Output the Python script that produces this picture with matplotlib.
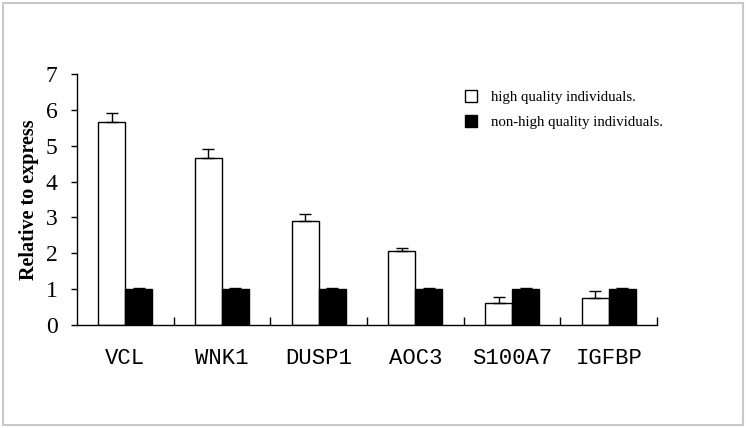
import numpy as np
import matplotlib
matplotlib.use("Agg")
import matplotlib.pyplot as plt
from matplotlib.patches import Rectangle

# =========================
# DATA
# =========================
genes = ["VCL", "WNK1", "DUSP1", "AOC3", "S100A7", "IGFBP"]
high_vals = [5.65, 4.65, 2.9, 2.05, 0.62, 0.75]
high_err = [0.25, 0.25, 0.2, 0.1, 0.15, 0.2]
non_vals = [1.0, 1.0, 1.0, 1.0, 1.0, 1.0]
non_err = [0.04, 0.04, 0.04, 0.04, 0.04, 0.04]

# =========================
# PLOT
# =========================
fig = plt.figure(figsize=(7.46, 4.28), dpi=100)
ax = fig.add_axes([0.103, 0.241, 0.778, 0.586])

x = np.arange(len(genes))
w = 0.28

ax.bar(x - w / 2, high_vals, w, color="white", edgecolor="black", linewidth=1,
       label="high quality individuals.")
ax.bar(x + w / 2, non_vals, w, color="black", edgecolor="black", linewidth=1,
       label="non-high quality individuals.")
ax.errorbar(x - w / 2, high_vals, yerr=[np.zeros(len(x)), high_err], fmt="none",
            ecolor="black", elinewidth=1, capsize=4, capthick=1)
ax.errorbar(x + w / 2, non_vals, yerr=[np.zeros(len(x)), non_err], fmt="none",
            ecolor="black", elinewidth=1, capsize=4, capthick=1)

ax.set_xlim(-0.5, len(genes) - 0.5)
ax.set_ylim(0, 7)
ax.set_yticks(range(8))
ax.set_yticklabels([str(i) for i in range(8)], fontfamily="Liberation Serif", fontsize=17)
ax.tick_params(axis="y", direction="out", length=4, width=1, pad=10)

ax.set_xticks(x)
ax.set_xticklabels(genes, fontfamily="Liberation Mono", fontsize=16)
ax.tick_params(axis="x", which="major", length=0, pad=17)
ax.set_xticks(np.arange(len(genes)) + 0.5, minor=True)
ax.tick_params(axis="x", which="minor", direction="in", length=6, width=1)

for s in ["top", "right"]:
    ax.spines[s].set_visible(False)
for s in ["left", "bottom"]:
    ax.spines[s].set_linewidth(1)

ax.set_ylabel("Relative to express", fontfamily="Liberation Serif",
              fontweight="bold", fontsize=14.5, labelpad=5)

leg = ax.legend(loc="upper left", bbox_to_anchor=(0.645, 0.99), frameon=False,
                prop={"family": "Liberation Serif", "size": 10.7},
                handlelength=0.85, handleheight=0.85, handletextpad=0.9,
                labelspacing=0.75)

# light frame around the picture
fig.patches.append(Rectangle((0.004, 0.006), 0.992, 0.988, transform=fig.transFigure,
                             fill=False, edgecolor="#c8c8c8", linewidth=1.5))

fig.savefig("out.png", dpi=100)
